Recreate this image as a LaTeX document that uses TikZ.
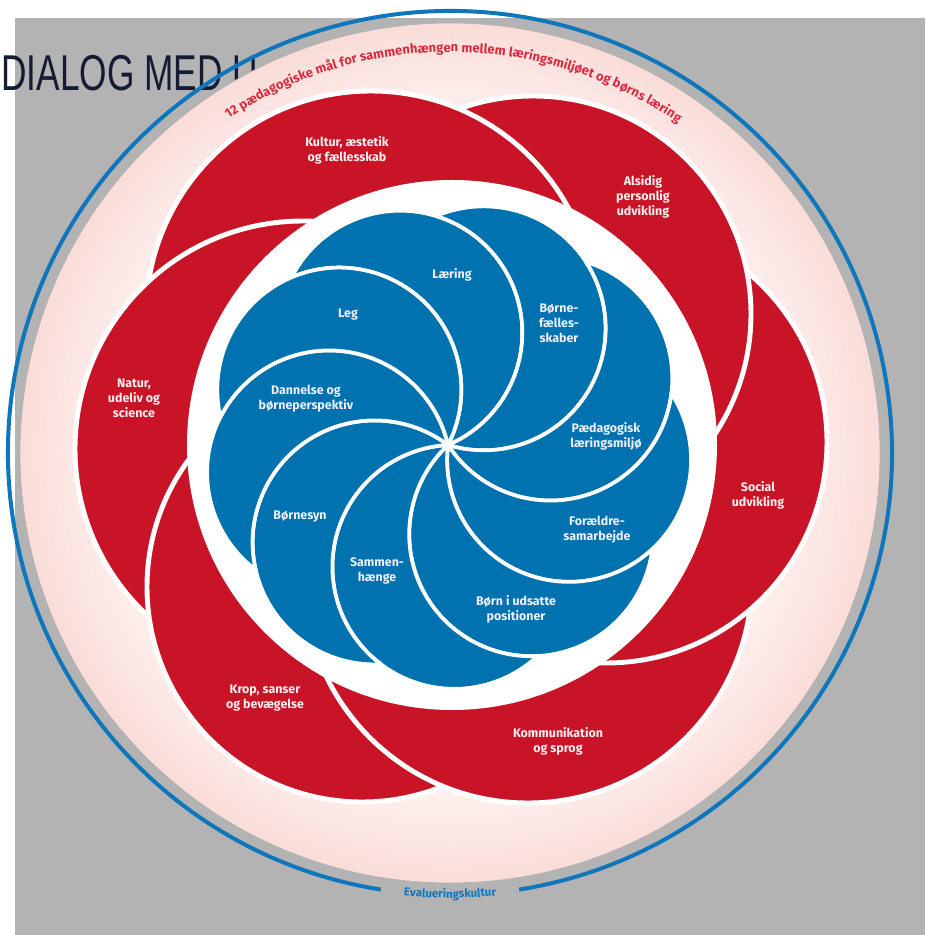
\documentclass[tikz,border=0pt]{standalone}
\usepackage{fontspec}
\setmainfont{Fira Sans}
\newfontfamily\titlefont{Liberation Sans}
\newfontfamily\labelfont{Fira Sans}
\usetikzlibrary{decorations.text}

\definecolor{petalred}{RGB}{200,20,38}
\definecolor{bladeblue}{RGB}{0,114,176}
\definecolor{ringblue}{RGB}{16,118,188}
\definecolor{goalred}{RGB}{214,44,64}
\definecolor{bggray}{RGB}{179,179,179}
\definecolor{discpink}{RGB}{250,220,216}
\definecolor{titlenavy}{RGB}{22,27,52}

\pgfdeclareradialshading{goaldisc}{\pgfpoint{0bp}{0bp}}{color(0bp)=(white); color(16bp)=(white); color(25bp)=(discpink); color(50bp)=(discpink)}

\begin{document}
\begin{tikzpicture}[x=0.03cm, y=0.03cm,
  petal/.style={fill=petalred, draw=white, line width=4.2pt},
  blade/.style={fill=bladeblue, draw=white, line width=3.2pt, line join=round},
  petallabel/.style={text=white!94!red, align=center, inner sep=0pt, font=\labelfont\bfseries\fontsize{10.6}{12.8}\selectfont},
  bladelabel/.style={petallabel, text=white!94!blue},
  ring/.style={ringblue, line width=3.4pt}
]
\useasboundingbox (-448,-490) rectangle (477,445);
\fill[white] (-448,-490) rectangle (477,445);
\fill[bggray] (-433,-490) rectangle (477,427);

\node[anchor=base west, inner sep=0pt, text=titlenavy, font=\titlefont\fontsize{43}{43}\selectfont] (dialog) at (-447,354) {\scalebox{0.7}[1]{DIALOG MED U}};

% outer ring with the gap for the bottom text
\draw[ring] (2,-8) ++(-81:442) arc[start angle=-81, end angle=261, radius=442];
\shade[shading=goaldisc] (2,-8) circle (430);
\draw[black!30, line width=0.6pt] (2,-8) circle (430);

\path[decorate, decoration={text along path, text align=center,
  text={|\color{goalred}\labelfont\bfseries\fontsize{11.1}{12}\selectfont|12 pædagogiske mål for sammenhængen mellem læringsmiljøet og børns læring}}]
  (2,-8) ++(130:401) arc[start angle=130, end angle=49, radius=401];
\path[decorate, decoration={text along path, text align=center,
  text={|\color{ringblue}\labelfont\bfseries\fontsize{9.8}{12}\selectfont|Evalueringskultur}}]
  (2,-8) ++(-100:445) arc[start angle=-100, end angle=-80, radius=445];

% red petals, each one lies over its clockwise neighbour
\foreach \x/\y/\r in {80/-134/224, 158/3/221, 85/131/218, -77/129/225, -145/-4/228, -86/-142/215}
  \draw[petal] (\x,\y) circle (\r);
\begin{scope}
  \clip (0,0) -- (-160:500) -- (-110:500) -- (-59:500) -- cycle;
  \draw[petal] (80,-134) circle (224);
\end{scope}

\fill[white] (4,0) circle (265);

% blue pinwheel
\foreach \a in {113,73,...,-207}
  \draw[blade] (0,0) arc[start angle=\a-180, end angle=\a+40, radius=122]
    arc[start angle=\a, end angle=\a-140, radius=122] -- cycle;

\node[petallabel] (kultur) at (-101,295) {Kultur, æstetik\\og fællesskab};
\node[petallabel] (alsidig) at (195,248) {Alsidig\\personlig\\udvikling};
\node[petallabel] (social) at (310,-50) {Social\\udvikling};
\node[petallabel] (sprog) at (110,-296) {Kommunikation\\og sprog};
\node[petallabel] (krop) at (-183,-253) {Krop, sanser\\og bevægelse};
\node[petallabel] (natur) at (-314,47) {Natur,\\udeliv og\\science};

\node[bladelabel] (laering) at (4,170) {Læring};
\node[bladelabel] (leg) at (-100,130) {Leg};
\node[bladelabel] (faelles) at (111,122) {Børne-\\fælles-\\skaber};
\node[bladelabel] (dannelse) at (-142,46) {Dannelse og\\børneperspektiv};
\node[bladelabel] (miljoe) at (158,9) {Pædagogisk\\læringsmiljø};
\node[bladelabel] (boernesyn) at (-148,-72) {Børnesyn};
\node[bladelabel] (foraeldre) at (149,-85) {Forældre-\\samarbejde};
\node[bladelabel] (sammen) at (-71,-126) {Sammen-\\hænge};
\node[bladelabel] (udsatte) at (68,-164) {Børn i udsatte\\positioner};
\end{tikzpicture}
\end{document}
